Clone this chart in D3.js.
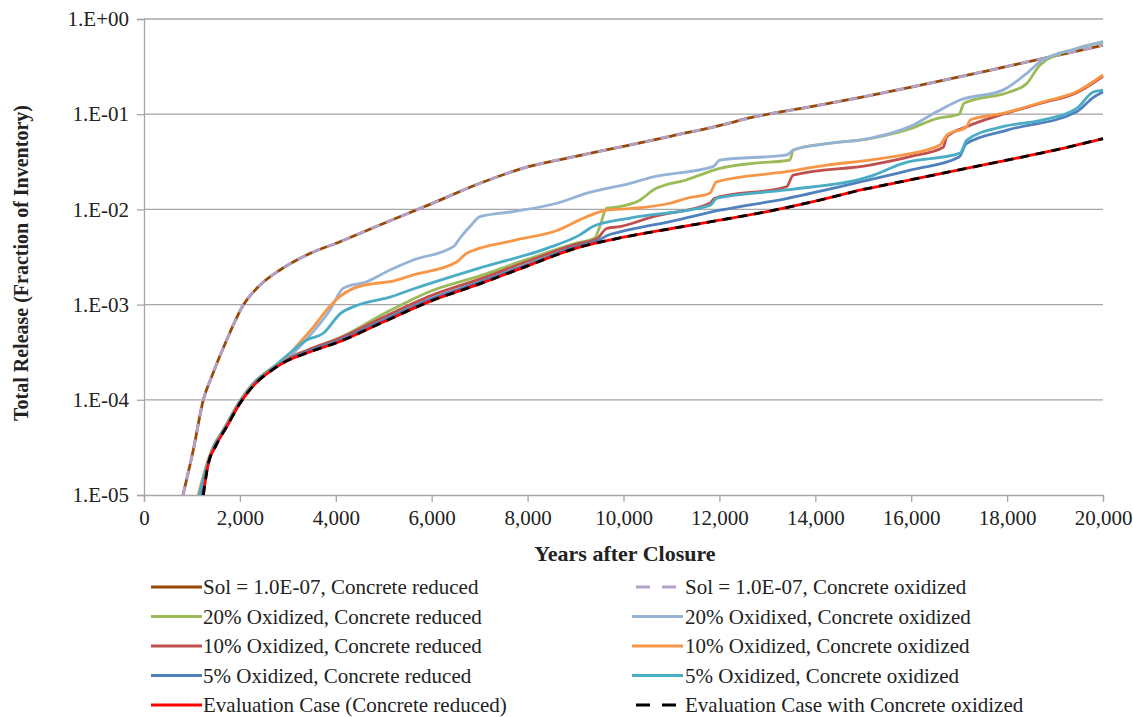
<!DOCTYPE html>
<html><head><meta charset="utf-8">
<script src="https://cdn.jsdelivr.net/npm/d3@7"></script>
<style>
body{margin:0;background:#fff;}
text{font-family:"Liberation Serif","Times New Roman",serif;fill:#222;}
</style></head>
<body><svg id="c" width="1133" height="717"></svg>
<script>
// ---- data (years, fraction of inventory) ----
const xTicks = [0,2000,4000,6000,8000,10000,12000,14000,16000,18000,20000];
const yTicks = [1e-5,1e-4,1e-3,1e-2,1e-1,1];
const yTickLabels = ["1.E-05","1.E-04","1.E-03","1.E-02","1.E-01","1.E+00"];

const solYears  = [813,1030,1237,1411,1724,2071,2419,2836,3393,4088,5130,6000,7007,8000,9000,10000,11000,12000,12700,14000,15000,16000,17000,18000,19000,20000];
const solValues = [1e-5,3e-5,1e-4,1.75e-4,4.25e-4,9.9e-4,1.6e-3,2.31e-3,3.32e-3,4.58e-3,7.6e-3,0.0115,0.0188,0.028,0.036,0.046,0.059,0.076,0.093,0.122,0.152,0.193,0.246,0.318,0.41,0.53];

const evalYears  = [1237,1330,1500,1724,2002,2280,2697,2975,3393,4088,5000,6000,7000,8000,9000,10000,11000,12000,13000,14000,15000,16000,17000,18000,19000,20000];
const evalValues = [1e-5,2e-5,3.3e-5,5.2e-5,9.2e-5,1.4e-4,2.1e-4,2.55e-4,3.1e-4,4.1e-4,6.6e-4,1.1e-3,1.65e-3,2.55e-3,3.9e-3,5.1e-3,6.3e-3,7.7e-3,9.5e-3,1.22e-2,1.62e-2,2.05e-2,2.6e-2,3.3e-2,4.2e-2,5.55e-2];

const ox20RedYears  = [1200,1330,1724,2002,2280,2697,2975,3393,4088,5000,6000,7000,8000,9000,9400,9500,9650,9927,10340,10620,11320,12010,12700,13470,13540,14240,15140,15970,16530,17000,17100,18060,18410,18690,19450,20000];
const ox20RedValues = [1e-5,2.1e-5,5.4e-5,9.5e-5,1.47e-4,2.2e-4,2.75e-4,3.3e-4,4.5e-4,8.0e-4,1.4e-3,2.0e-3,3.0e-3,4.4e-3,5.0e-3,6.5e-3,0.0103,0.0107,0.0125,0.016,0.0205,0.027,0.0305,0.033,0.042,0.049,0.0555,0.07,0.09,0.1,0.13,0.172,0.21,0.33,0.49,0.57];

const ox20OxYears  = [1200,1330,1724,2002,2280,2697,2975,3530,3880,4158,4644,5130,5615,6450,6590,6798,7007,7702,8610,9240,10135,10620,11870,12010,13400,13540,14240,15140,15970,16530,17020,17910,18410,18690,19450,20000];
const ox20OxValues = [1e-5,2.1e-5,5.4e-5,9.5e-5,1.47e-4,2.2e-4,2.7e-4,5.2e-4,8.8e-4,1.49e-3,1.74e-3,2.31e-3,2.94e-3,4.06e-3,5.0e-3,6.6e-3,8.4e-3,9.5e-3,0.0116,0.0148,0.0188,0.022,0.0281,0.033,0.0373,0.042,0.049,0.0558,0.074,0.106,0.141,0.179,0.269,0.356,0.49,0.58];

const ox10RedYears  = [1200,1330,1724,2002,2280,2697,2975,3393,4088,5000,6000,7000,8000,9000,9450,9650,9927,10620,11800,11900,13400,13540,15140,16000,16670,16740,17160,17910,18750,19450,20000];
const ox10RedValues = [1e-5,2.1e-5,5.3e-5,9.4e-5,1.45e-4,2.15e-4,2.65e-4,3.3e-4,4.45e-4,7.4e-4,1.25e-3,1.85e-3,2.85e-3,4.3e-3,4.95e-3,6.3e-3,6.6e-3,8.4e-3,0.0116,0.0131,0.0173,0.0229,0.0292,0.036,0.045,0.058,0.074,0.1,0.132,0.168,0.25];

const ox10OxYears  = [1130,1330,1724,2002,2280,2697,2900,3250,3530,3810,4088,4366,4783,5130,5615,6520,6730,7702,8610,9240,9650,10135,10970,11320,11800,11940,13400,14240,15140,15830,16600,16740,17160,17230,17910,18750,19450,20000];
const ox10OxValues = [1e-5,2.3e-5,5.6e-5,9.8e-5,1.5e-4,2.2e-4,2.6e-4,4.0e-4,5.8e-4,8.8e-4,1.22e-3,1.48e-3,1.66e-3,1.74e-3,2.05e-3,2.8e-3,3.46e-3,4.7e-3,6.0e-3,8.4e-3,9.8e-3,0.0102,0.0116,0.0131,0.0148,0.0195,0.0249,0.0292,0.033,0.0373,0.0475,0.06,0.074,0.087,0.102,0.135,0.172,0.258];

const ox5RedYears  = [1200,1330,1724,2002,2280,2697,2975,3393,4088,5000,6000,7000,8000,9000,9500,9650,9927,11000,12010,13400,15140,16000,17000,17150,18000,19450,19800,20000];
const ox5RedValues = [1e-5,2.05e-5,5.3e-5,9.3e-5,1.43e-4,2.12e-4,2.6e-4,3.2e-4,4.25e-4,6.9e-4,1.16e-3,1.72e-3,2.65e-3,4.05e-3,4.8e-3,5.3e-3,5.8e-3,7.5e-3,9.8e-3,0.013,0.0205,0.026,0.0355,0.049,0.068,0.106,0.15,0.172];

const ox5OxYears  = [1150,1330,1724,2002,2280,2697,2975,3393,3740,4088,4436,5130,5615,7007,8400,9090,9360,10135,11800,11950,13400,15140,15830,17020,17160,17910,18750,19450,19790,20000];
const ox5OxValues = [1e-5,2.2e-5,5.5e-5,9.6e-5,1.48e-4,2.2e-4,2.9e-4,4.25e-4,5.0e-4,8.0e-4,9.8e-4,1.2e-3,1.46e-3,2.43e-3,3.9e-3,5.4e-3,6.6e-3,8.1e-3,0.011,0.0131,0.016,0.0222,0.0305,0.039,0.0535,0.074,0.087,0.115,0.17,0.179];

const seriesNames = [
 "Sol = 1.0E-07, Concrete reduced","Sol = 1.0E-07, Concrete oxidized",
 "20% Oxidized, Concrete reduced","20% Oxidixed, Concrete oxidized",
 "10% Oxidized, Concrete reduced","10% Oxidized, Concrete oxidized",
 "5% Oxidized, Concrete reduced","5% Oxidized, Concrete oxidized",
 "Evaluation Case (Concrete reduced)","Evaluation Case with Concrete oxidized"];
const seriesColors = ["#984807","#B3A2C7","#9BBB59","#95B3D7","#C0504D","#F79646","#4F81BD","#4BACC6","#FF0000","#000000"];
const seriesDash = [null,"9,7",null,null,null,null,null,null,null,"9,7"];
const seriesX = [solYears,solYears,ox20RedYears,ox20OxYears,ox10RedYears,ox10OxYears,ox5RedYears,ox5OxYears,evalYears,evalYears];
const seriesY = [solValues,solValues,ox20RedValues,ox20OxValues,ox10RedValues,ox10OxValues,ox5RedValues,ox5OxValues,evalValues,evalValues];

// ---- drawing ----
const svg = d3.select("#c");
const L=144,R=1103,T=19,B=495;
const x = d3.scaleLinear().domain([0,20000]).range([L,R]);
const y = d3.scaleLog().domain([1e-5,1]).range([B,T]);
const grid="#A6A6A6";

svg.append("g").selectAll("line").data(yTicks.slice(1)).join("line")
  .attr("x1",L).attr("x2",R).attr("y1",d=>y(d)).attr("y2",d=>y(d))
  .attr("stroke",grid).attr("stroke-width",1.3);

const yAxis = d3.axisLeft(y).tickValues(yTicks).tickFormat((d,i)=>yTickLabels[i]).tickSize(7).tickPadding(8);
const gy = svg.append("g").attr("transform",`translate(${L},0)`).call(yAxis);
gy.select(".domain").attr("stroke",grid).attr("stroke-width",1.3);
gy.selectAll(".tick line").attr("stroke",grid).attr("stroke-width",1.3);
gy.selectAll("text").style("font-size","21px").style("font-family","Liberation Serif").attr("fill","#222");

const xAxis = d3.axisBottom(x).tickValues(xTicks).tickFormat(d3.format(",")).tickSize(7).tickPadding(8);
const gx = svg.append("g").attr("transform",`translate(0,${B})`).call(xAxis);
gx.select(".domain").attr("stroke",grid).attr("stroke-width",1.3);
gx.selectAll(".tick line").attr("stroke",grid).attr("stroke-width",1.3);
gx.selectAll("text").style("font-size","21px").style("font-family","Liberation Serif").attr("fill","#222");

svg.append("clipPath").attr("id","pc").append("rect").attr("x",L).attr("y",T-10).attr("width",R-L+10).attr("height",B-T+10);
const line = d3.line().x(d=>x(d[0])).y(d=>y(d[1])).curve(d3.curveMonotoneX);
const gl = svg.append("g").attr("clip-path","url(#pc)");
seriesNames.forEach((n,i)=>{
  const pts = seriesX[i].map((yr,j)=>[yr,seriesY[i][j]]);
  gl.append("path").datum(pts).attr("d",line).attr("fill","none")
    .attr("stroke",seriesColors[i]).attr("stroke-width",2.8)
    .attr("stroke-dasharray",seriesDash[i]).attr("stroke-linejoin","round");
});

svg.append("text").attr("x",625).attr("y",561).attr("text-anchor","middle")
  .style("font-size","22px").style("font-weight","bold").text("Years after Closure");
svg.append("text").attr("transform",`translate(28,263) rotate(-90)`).attr("text-anchor","middle")
  .style("font-size","20px").style("font-weight","bold").text("Total Release (Fraction of Inventory)");

const lg = svg.append("g");
seriesNames.forEach((n,i)=>{
  const col = i%2, row = Math.floor(i/2);
  const cy = 587+row*29.5;
  const dashed = !!seriesDash[i];
  const x1 = col===0 ? 151 : (dashed ? 636 : 632);
  const x2 = col===0 ? 202 : (dashed ? 676 : 683);
  lg.append("line").attr("x1",x1).attr("x2",x2).attr("y1",cy).attr("y2",cy)
    .attr("stroke",seriesColors[i]).attr("stroke-width",3).attr("stroke-dasharray",dashed?"14,12":null);
  lg.append("text").attr("x",col===0?203:685).attr("y",cy+7).style("font-size","21px").text(n);
});
</script></body></html>
